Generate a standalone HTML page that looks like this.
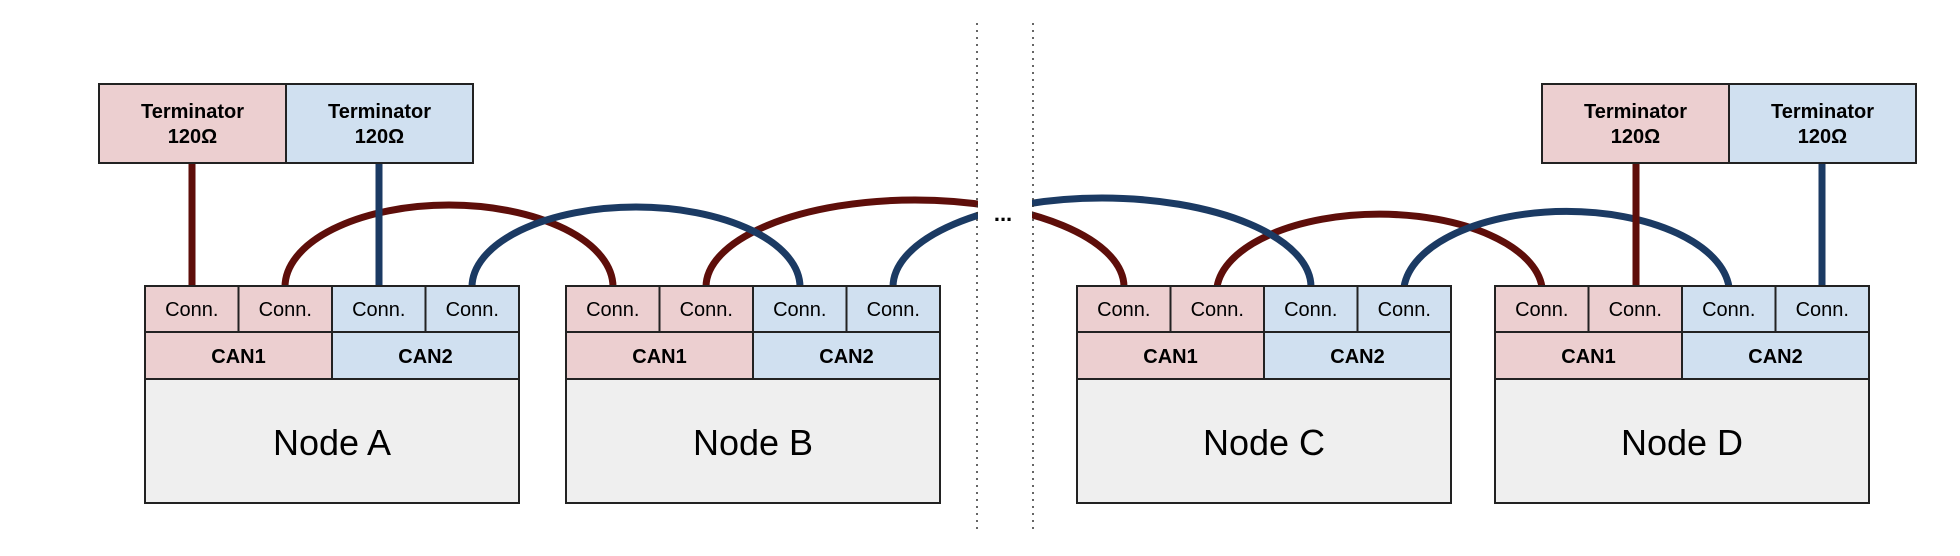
<!DOCTYPE html>
<html><head><meta charset="utf-8"><style>
html,body{margin:0;padding:0;background:#fff;}
svg{display:block;}
text{font-family:"Liberation Sans",Arial,sans-serif;text-anchor:middle;fill:#000;}
.c{font-size:20px;}
.b{font-size:20px;font-weight:bold;}
.n{font-size:36px;}
</style></head><body>
<svg width="1960" height="556" viewBox="0 0 1960 556" xmlns="http://www.w3.org/2000/svg">
<defs>
<g id="node">
  <rect x="0" y="0" width="93.5" height="46" fill="#eccfd0" stroke="#222" stroke-width="2"/>
  <rect x="93.5" y="0" width="93.5" height="46" fill="#eccfd0" stroke="#222" stroke-width="2"/>
  <rect x="187" y="0" width="93.5" height="46" fill="#d0e0f0" stroke="#222" stroke-width="2"/>
  <rect x="280.5" y="0" width="93.5" height="46" fill="#d0e0f0" stroke="#222" stroke-width="2"/>
  <rect x="0" y="46" width="187" height="47" fill="#eccfd0" stroke="#222" stroke-width="2"/>
  <rect x="187" y="46" width="187" height="47" fill="#d0e0f0" stroke="#222" stroke-width="2"/>
  <rect x="0" y="93" width="374" height="124" fill="#efefef" stroke="#222" stroke-width="2"/>
  <text class="c" x="46.75" y="30">Conn.</text>
  <text class="c" x="140.25" y="30">Conn.</text>
  <text class="c" x="233.75" y="30">Conn.</text>
  <text class="c" x="327.25" y="30">Conn.</text>
  <text class="b" x="93.5" y="77">CAN1</text>
  <text class="b" x="280.5" y="77">CAN2</text>
</g>
<g id="term">
  <rect x="0" y="0" width="187" height="79" fill="#eccfd0" stroke="#222" stroke-width="2"/>
  <rect x="187" y="0" width="187" height="79" fill="#d0e0f0" stroke="#222" stroke-width="2"/>
  <text class="b" x="93.5" y="34">Terminator</text>
  <text class="b" x="93.5" y="59">120Ω</text>
  <text class="b" x="280.5" y="34">Terminator</text>
  <text class="b" x="280.5" y="59">120Ω</text>
</g>
</defs>

<g fill="none" stroke-width="7">
  <path d="M285 287 A164 82 0 0 1 613 287" stroke="#5e0e0a"/>
  <path d="M706 287 A209 87 0 0 1 1124 287" stroke="#5e0e0a"/>
  <path d="M1217 287 A163 79 0 0 1 1542 287" stroke="#5e0e0a"/>
  <path d="M472 287 A164 80 0 0 1 800 287" stroke="#1b3a63"/>
  <path d="M893 287 A209 89 0 0 1 1311 287" stroke="#1b3a63"/>
  <path d="M1404 287 A163 82 0 0 1 1729 287" stroke="#1b3a63"/>
  <line x1="192" y1="163" x2="192" y2="287" stroke="#5e0e0a"/>
  <line x1="379" y1="163" x2="379" y2="287" stroke="#1b3a63"/>
  <line x1="1636" y1="163" x2="1636" y2="287" stroke="#5e0e0a"/>
  <line x1="1822" y1="163" x2="1822" y2="287" stroke="#1b3a63"/>
</g>
<rect x="978" y="0" width="54" height="556" fill="#fff"/>
<line x1="977" y1="23" x2="977" y2="533" stroke="#333" stroke-width="1.5" stroke-dasharray="2,5"/>
<line x1="1033" y1="23" x2="1033" y2="533" stroke="#333" stroke-width="1.5" stroke-dasharray="2,5"/>
<text x="1003" y="221" style="font-size:22px;font-weight:bold">...</text>

<use href="#term" x="99" y="84"/>
<use href="#term" x="1542" y="84"/>

<use href="#node" x="145" y="286"/>
<use href="#node" x="566" y="286"/>
<use href="#node" x="1077" y="286"/>
<use href="#node" x="1495" y="286"/>

<text class="n" x="332" y="455">Node A</text>
<text class="n" x="753" y="455">Node B</text>
<text class="n" x="1264" y="455">Node C</text>
<text class="n" x="1682" y="455">Node D</text>
</svg>
</body></html>
